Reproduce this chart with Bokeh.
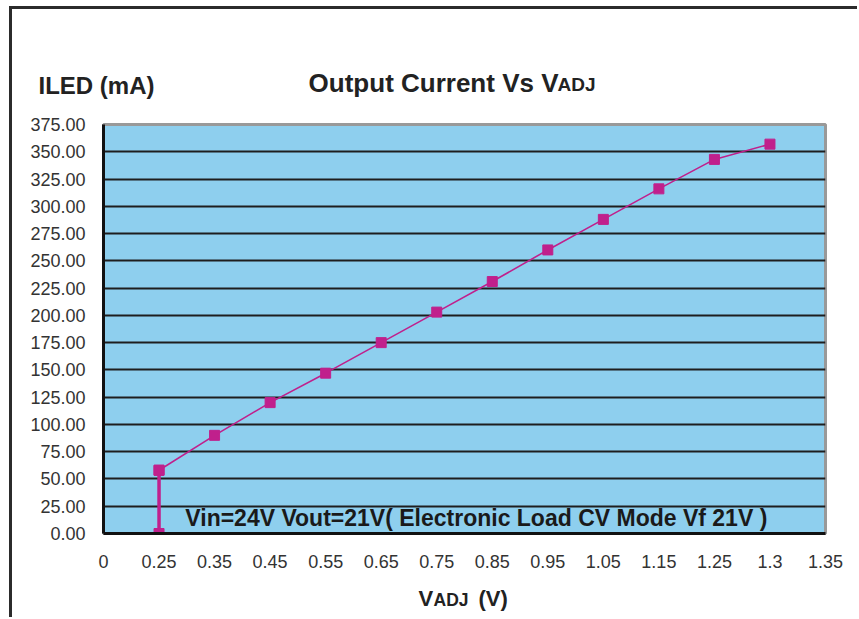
from bokeh.plotting import figure
from bokeh.layouts import column
from bokeh.models import Range1d, FixedTicker, Label, NumeralTickFormatter
from bokeh.embed import file_html
from bokeh.resources import INLINE

# ---- data ----
x_labels = ["0", "0.25", "0.35", "0.45", "0.55", "0.65", "0.75", "0.85",
            "0.95", "1.05", "1.15", "1.25", "1.3", "1.35"]
vadj = ["0.25", "0.35", "0.45", "0.55", "0.65", "0.75", "0.85",
        "0.95", "1.05", "1.15", "1.25", "1.3"]
iled = [58, 90, 120, 147, 175, 203, 231, 260, 288, 316, 343, 357]
start_vadj = ["0.25", "0.25"]
start_iled = [0, 58]
y_ticks = [0, 25, 50, 75, 100, 125, 150, 175, 200, 225, 250, 275, 300, 325, 350, 375]

xi = [x_labels.index(v) for v in vadj]
sxi = [x_labels.index(v) for v in start_vadj]

FONT = "Liberation Sans"
MAG = "#C0208C"
W = 845
OX = 12                       # page x of the canvases' left edge
H_HEAD, H_MAIN, H_FOOT = 100, 471, 37
Y_HEAD = 9
Y_MAIN = Y_HEAD + H_HEAD
Y_FOOT = Y_MAIN + H_MAIN


def text_strip(h):
    f = figure(width=W, height=h, output_backend="svg", toolbar_location=None,
               x_range=Range1d(0, W), y_range=Range1d(h, 0),
               x_axis_location=None, y_axis_location=None,
               min_border=0, min_border_left=0, min_border_right=0,
               min_border_top=0, min_border_bottom=0)
    f.frame_align = False
    f.grid.visible = False
    f.outline_line_color = None
    f.background_fill_color = "white"
    f.border_fill_color = "white"
    return f


def lab(fig, oy, text, px, py, size, align="left", color="#222222", units="data"):
    fig.add_layout(Label(x=px - OX, y=py - oy, x_units=units, y_units=units,
                         text=text, text_font=FONT,
                         text_font_size=size, text_font_style="bold",
                         text_color=color, text_align=align,
                         text_baseline="middle"))


# ---- header (axis title + chart title) ----
head = text_strip(H_HEAD)
lab(head, Y_HEAD, "ILED (mA)", 38, 84.5, "24px")
lab(head, Y_HEAD, "Output Current Vs V", 558, 82, "26px", align="right")
lab(head, Y_HEAD, "ADJ", 557, 84, "19px")

# ---- main chart ----
p = figure(width=W, height=H_MAIN, output_backend="svg", toolbar_location=None,
           x_range=Range1d(0, len(x_labels) - 1), y_range=Range1d(0, 375),
           min_border_left=91, min_border_right=32, min_border_top=15,
           min_border_bottom=47)
p.frame_align = False
p.background_fill_color = "#8ECFEE"
p.border_fill_color = "white"
p.outline_line_color = "#999999"
p.outline_line_width = 3

p.xgrid.visible = False
p.ygrid.ticker = FixedTicker(ticks=y_ticks[1:-1])
p.ygrid.grid_line_color = "#1e1e1e"
p.ygrid.grid_line_width = 2

for ax in (p.xaxis, p.yaxis):
    ax.axis_line_color = "#111111"
    ax.axis_line_width = 3
    ax.major_tick_line_color = None
    ax.minor_tick_line_color = None
    ax.major_tick_out = 0
    ax.major_tick_in = 0
    ax.major_label_text_font = FONT
    ax.major_label_text_font_size = "18px"
    ax.major_label_text_color = "#333333"

p.yaxis.ticker = FixedTicker(ticks=y_ticks)
p.yaxis.formatter = NumeralTickFormatter(format="0.00")
p.yaxis.major_label_standoff = 18
p.xaxis.ticker = FixedTicker(ticks=list(range(len(x_labels))))
p.xaxis.major_label_overrides = {i: s for i, s in enumerate(x_labels)}
p.xaxis.major_label_standoff = 21

p.line(sxi, start_iled, line_color=MAG, line_width=3.5)
p.line(xi, iled, line_color=MAG, line_width=1.6)
p.scatter(sxi, start_iled, marker="square", size=10, fill_color=MAG, line_color=MAG)
p.scatter(xi, iled, marker="square", size=10, fill_color=MAG, line_color=MAG)

lab(p, Y_MAIN, "Vin=24V  Vout=21V( Electronic Load CV Mode Vf 21V )", 479, 517,
    "23px", align="center", color="#1a1a1a", units="canvas")

# ---- footer (x axis title) ----
foot = text_strip(H_FOOT)
lab(foot, Y_FOOT, "V", 418, 597.5, "22px")
lab(foot, Y_FOOT, "ADJ", 433, 599.5, "17.5px")
lab(foot, Y_FOOT, "(V)", 478, 597.5, "22px")

layout = column(head, p, foot, spacing=0)
layout.styles = {"margin-left": "9px", "margin-top": "6px",
                 "border-left": "3px solid #2b2b2b", "border-top": "3px solid #2b2b2b"}

open("out.html", "w").write(file_html(layout, INLINE))
